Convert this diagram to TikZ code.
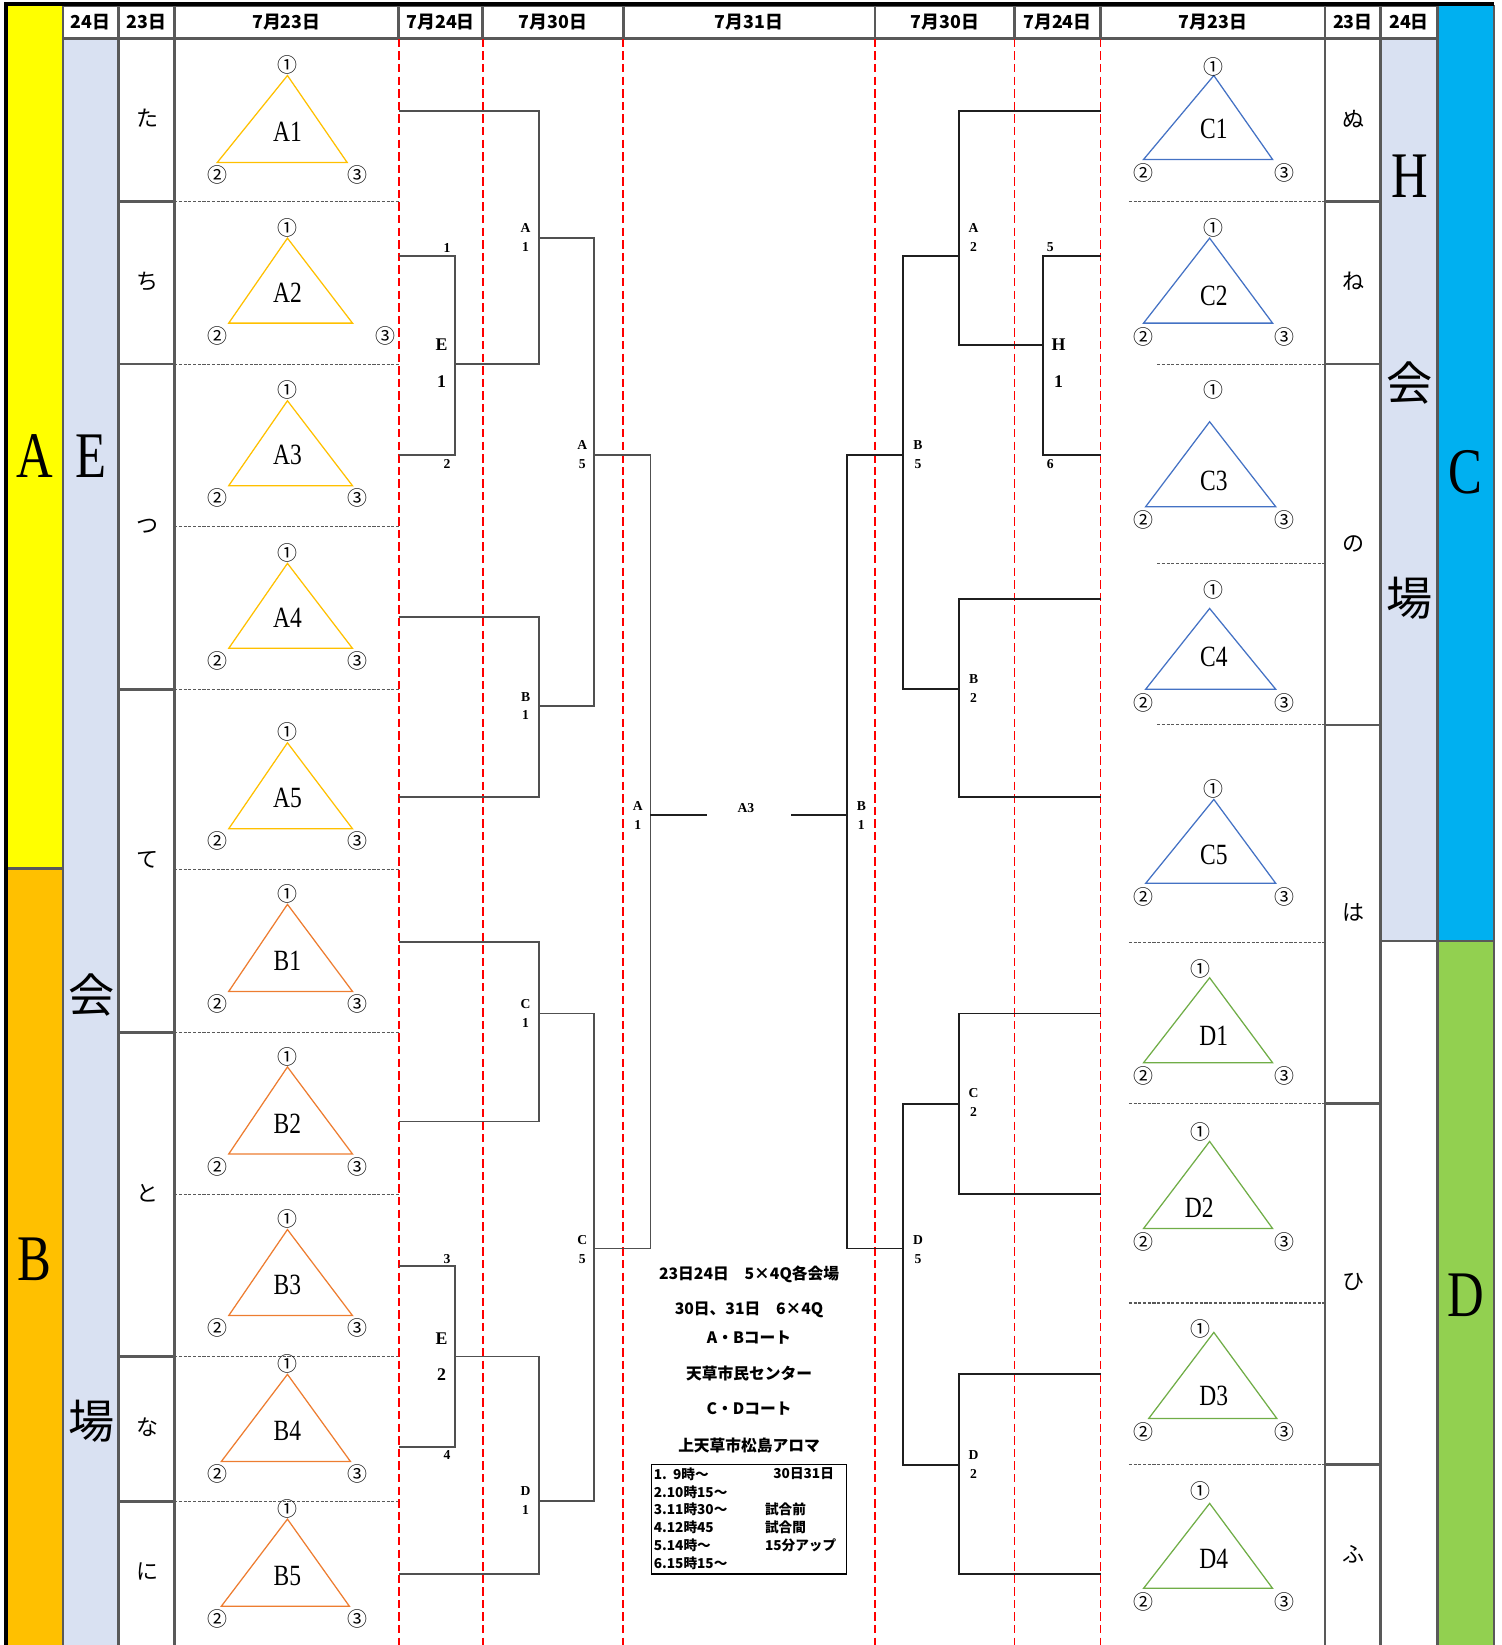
\documentclass[tikz,border=0pt]{standalone}
\usepackage{fontspec}
\setmainfont{Liberation Serif}
\newfontfamily\jp{Noto Sans CJK JP}
\usepackage{tikz}
\usetikzlibrary{
    positioning
}
\definecolor{grid}   {HTML}{595959}
\definecolor{ink}    {HTML}{1F1F1F}
\definecolor{bandY}  {HTML}{FFFF00}
\definecolor{bandO}  {HTML}{FFC000}
\definecolor{bandC}  {HTML}{00B0F0}
\definecolor{bandG}  {HTML}{92D050}
\definecolor{lav}    {HTML}{D9E1F2}
\definecolor{cA}     {HTML}{FFC000}
\definecolor{cB}     {HTML}{ED7D31}
\definecolor{cC}     {HTML}{4472C4}
\definecolor{cD}     {HTML}{70AD47}
\definecolor{rline}  {HTML}{FF0000}
\newcommand{\setfs}[1]{\fontsize{#1}{#1}\selectfont}

\begin{document}
\begin{tikzpicture}[
    x=1pt, y=-1pt,
    line join=miter,
    %% --- semantic styles ---
    gridline/.style = {draw=grid, line width=2.6pt},
    sepline/.style  = {draw=grid, line width=1pt, dash pattern=on 3pt off 1.5pt},
    rdash/.style    = {draw=rline, line width=1.8pt, dash pattern=on 8pt off 4pt},
    brk/.style      = {draw=ink, line width=1.8pt},
    brkl/.style     = {draw=grid!90!black, line width=1.8pt},
    tri/.style      = {line width=1.2pt},
    hdr/.style      = {font=\jp\bfseries\setfs{17}, inner sep=0pt},
    bigl/.style     = {font=\setfs{62}, inner sep=0pt, xscale=0.78},
    bigk/.style     = {font=\jp\setfs{44}, inner sep=0pt},
    kana/.style     = {font=\jp\setfs{21}, inner sep=0pt},
    grp/.style      = {font=\setfs{28}, inner sep=0pt, xscale=0.8},
    vtx/.style      = {font=\jp\setfs{19}, inner sep=0pt},
    tag/.style      = {font=\bfseries\fontsize{13}{18}\selectfont, align=center,
                       inner sep=0pt},
    etag/.style     = {font=\bfseries\setfs{17}, inner sep=0pt},
    note/.style     = {font=\jp\bfseries\setfs{15}, inner sep=0pt},
    tnote/.style    = {font=\jp\bfseries\setfs{13}, inner sep=0pt, anchor=west}
]
\useasboundingbox (0,0) rectangle (1431,1568);

%% =====================================================
%% Colour bands
%% =====================================================
\fill[bandY] (8,5)    rectangle (60,828);
\fill[bandO] (8,828)  rectangle (60,1568);
\fill[lav]   (61,37)  rectangle (113,1568);
\fill[lav]   (1316,37) rectangle (1370,897);
\fill[bandC] (1370,5) rectangle (1424,897);
\fill[bandG] (1370,897) rectangle (1424,1568);

%% =====================================================
%% Header row
%% =====================================================
\foreach \xa/\xb/\txt in {60/113/24日, 113/166/23日, 166/380/7月23日,
    380/460/7月24日, 460/594/7月30日, 594/834/7月31日, 834/967/7月30日,
    967/1049/7月24日, 1049/1263/7月23日, 1263/1316/23日, 1316/1370/24日}
{
    \draw[gridline] (\xa,5) rectangle (\xb,37);
    \node[hdr] (h\xa) at ({(\xa+\xb)/2},21) {\txt};
}

%% =====================================================
%% Grid
%% =====================================================
\foreach \x in {60,1370,1424}
    \draw[gridline] (\x,5) -- (\x,1568);
\foreach \x in {113,166,1263,1316}
    \draw[gridline] (\x,37) -- (\x,1568);
\draw[gridline] (8,828) -- (60,828);
\draw[gridline] (1316,897) -- (1424,897);
\draw[draw=black, line width=4pt] (6,4) -- (1424,4);
\draw[draw=black, line width=4pt] (6,2) -- (6,1568);

% cells of the 23日 columns
\foreach \y in {192,347,657,984,1293,1431}
    \draw[gridline] (113,\y) -- (166,\y);
\foreach \y in {192,347,691,1052,1396}
    \draw[gridline] (1263,\y) -- (1316,\y);

% dashed group separators
\foreach \y in {192,347,502,657,829,984,1139,1293,1431}
    \draw[sepline] (166,\y) -- (380,\y);
\foreach \xa/\y in {1076/192,1103/347,1103/537,1103/691,1076/898,
    1076/1052,1076/1242,1076/1396}
    \draw[sepline] (\xa,\y) -- (1263,\y);

% day boundaries
\foreach \x in {380,460,594,834,967,1049}
    \draw[rdash] (\x,37) -- (\x,1568);

%% =====================================================
%% Big letters and venue names
%% =====================================================
\node[bigl] (bandA) at (33,435)  {A};
\node[bigl] (bandB) at (33,1200) {B};
\node[bigl] (hallE) at (87,435)  {E};
\node[bigk] (kaiE)  at (87,948)  {会};
\node[bigk] (joE)   at (87,1355) {場};
\node[bigl] (hallH) at (1344,168) {H};
\node[bigk] (kaiH)  at (1344,365) {会};
\node[bigk] (joH)   at (1344,570) {場};
\node[bigl] (bandC) at (1397,450) {C};
\node[bigl] (bandD) at (1397,1235) {D};

\foreach \k/\y in {た/113, ち/268, つ/502, て/820, と/1137, な/1360, に/1498}
    \node[kana] (k\y) at (141,\y) {\k};
\foreach \k/\y in {ぬ/113, ね/268, の/518, は/870, ひ/1222, ふ/1482}
    \node[kana] (r\y) at (1290,\y) {\k};

%% =====================================================
%% Groups A, B (left)
%% =====================================================
\foreach \nm/\col/\ay/\by/\xl/\xr/\tx in {
    A1/cA/72/155/207/331/341,    A2/cA/227/308/218/336/367,
    A3/cA/382/463/218/336/341,   A4/cA/537/618/218/336/341,
    A5/cA/708/790/218/336/341,   B1/cB/862/945/218/336/341,
    B2/cB/1017/1100/218/336/341, B3/cB/1172/1254/218/336/341,
    B4/cB/1310/1393/211/334/341, B5/cB/1448/1531/211/333/341}
{
    \draw[tri, draw=\col] (274,\ay) -- (\xr,\by) -- (\xl,\by) -- cycle;
    \node[grp] (\nm)   at (274,\by-29) {\nm};
    \node[vtx] (\nm-1) at (274,\ay-10) {①};
    \node[vtx] (\nm-2) at (207,\by+12) {②};
    \node[vtx] (\nm-3) at (\tx,\by+12) {③};
}

%% =====================================================
%% Groups C, D (right)
%% =====================================================
\foreach \nm/\col/\ax/\ay/\by/\xl/\xr/\lx/\ly/\ox/\oy in {
    C1/cC/1157/72/152/1090/1213/1157/123/1157/64,
    C2/cC/1153/227/308/1090/1213/1157/282/1157/217,
    C3/cC/1153/402/483/1092/1216/1157/458/1157/372,
    C4/cC/1153/580/657/1092/1216/1157/626/1157/562,
    C5/cC/1157/762/842/1092/1216/1157/815/1157/752,
    D1/cD/1153/932/1013/1090/1213/1157/987/1144/924,
    D2/cD/1153/1088/1171/1090/1213/1143/1151/1144/1079,
    D3/cD/1157/1270/1352/1095/1217/1157/1331/1144/1267,
    D4/cD/1153/1433/1514/1090/1213/1157/1486/1144/1421}
{
    \draw[tri, draw=\col] (\ax,\ay) -- (\xr,\by) -- (\xl,\by) -- cycle;
    \node[grp] (\nm)   at (\lx,\ly) {\nm};
    \node[vtx] (\nm-1) at (\ox,\oy) {①};
    \node[vtx] (\nm-2) at (1090,\by+13) {②};
    \node[vtx] (\nm-3) at (1224,\by+13) {③};
}

%% =====================================================
%% Bracket, left half
%% =====================================================
\draw[brkl] (380,106) -| (514,347) -- (434,347);
\draw[brkl] (380,244) -| (434,434) -- (380,434);
\draw[brkl] (514,227) -| (566,673) -- (514,673);
\draw[brkl] (566,434) -| (620,1190) -- (566,1190);
\draw[brkl] (380,588) -| (514,760) -- (380,760);
\draw[brkl] (380,898) -| (514,1069) -- (380,1069);
\draw[brkl] (514,966) -| (566,1431) -- (514,1431);
\draw[brkl] (380,1207) -| (434,1379) -- (380,1379);
\draw[brkl] (434,1293) -| (514,1500) -- (380,1500);
\draw[brk]  (620,777) -- (674,777);

\node[etag] (e1a) at (421,329) {E};
\node[etag] (e1b) at (421,364) {1};
\node[tag]  (s1)  at (426,236) {1};
\node[tag]  (s2)  at (426,442) {2};
\node[etag] (e2a) at (421,1276) {E};
\node[etag] (e2b) at (421,1310) {2};
\node[tag]  (s3)  at (426,1200) {3};
\node[tag]  (s4)  at (426,1387) {4};

\foreach \txt/\n/\x/\y in {A/1/501/226, B/1/501/673, C/1/501/966,
    D/1/501/1430, A/5/555/433, C/5/555/1191, A/1/608/777}
    \node[tag] (L\x-\y) at (\x,\y) {\txt\\\n};

%% =====================================================
%% Bracket, right half
%% =====================================================
\draw[brk] (1049,106) -| (914,329) -- (994,329);
\draw[brk] (1049,244) -| (994,434) -- (1049,434);
\draw[brk] (914,244) -| (861,657) -- (914,657);
\draw[brk] (1049,571) -| (914,760) -- (1049,760);
\draw[brk] (861,434) -| (807,1190) -- (861,1190);
\draw[brk] (1049,966) -| (914,1138) -- (1049,1138);
\draw[brk] (914,1052) -| (861,1396) -- (914,1396);
\draw[brk] (1049,1310) -| (914,1500) -- (1049,1500);
\draw[brk] (754,777) -- (807,777);

\node[etag] (h1a) at (1009,329) {H};
\node[etag] (h1b) at (1009,364) {1};
\node[tag]  (s5)  at (1001,236) {5};
\node[tag]  (s6)  at (1001,442) {6};

\foreach \txt/\n/\x/\y in {A/2/928/226, B/2/928/656, C/2/928/1051,
    D/2/928/1396, B/5/875/433, D/5/875/1191, B/1/821/777}
    \node[tag] (R\x-\y) at (\x,\y) {\txt\\\n};
\node[tag] (finalA3) at (711,770) {A3};

%% =====================================================
%% Notes
%% =====================================================
\node[note] (n1) at (714,1215) {23日24日　5×4Q各会場};
\node[note] (n2) at (714,1249) {30日、31日　6×4Q};
\node[note] (n3) at (714,1275) {A・Bコート};
\node[note] (n4) at (714,1309) {天草市民センター};
\node[note] (n5) at (714,1343) {C・Dコート};
\node[note] (n6) at (714,1378) {上天草市松島アロマ};

\draw[draw=black, line width=1.6pt] (621,1396) rectangle (807,1500);
\node[tnote] (t1) at (623,1405) {1.\ \ 9時～};
\node[tnote] (t2) at (623,1422) {2.10時15～};
\node[tnote] (t3) at (623,1439) {3.11時30～};
\node[tnote] (t4) at (623,1456) {4.12時45};
\node[tnote] (t5) at (623,1473) {5.14時～};
\node[tnote] (t6) at (623,1490) {6.15時15～};
\node[tnote] (t7) at (737,1405) {30日31日};
\node[tnote] (t8) at (729,1439) {試合前};
\node[tnote] (t9) at (729,1456) {試合間};
\node[tnote] (t10) at (729,1473) {15分アップ};

\end{tikzpicture}
\end{document}
